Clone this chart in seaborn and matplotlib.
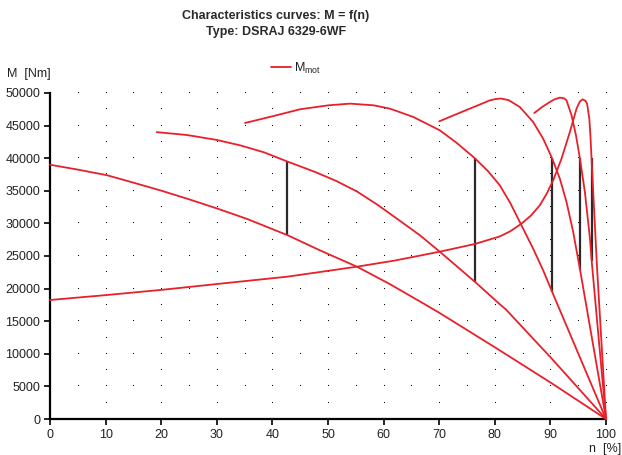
import numpy as np
import pandas as pd
import matplotlib
matplotlib.use("Agg")
import matplotlib.pyplot as plt
from matplotlib.lines import Line2D
import seaborn as sns

# ---- data ----
a_n = [0, 5, 10.2, 15, 20.1, 25, 30, 35.4, 42.7, 48.6, 55.2, 61, 67.4, 70, 80.2, 90.2, 100]
a_m = [39000, 38250, 37400, 36250, 35000, 33700, 32300, 30700, 28200, 25850, 23360, 20750,
       17600, 16300, 10900, 5500, 0]

b_n = [19.2, 24.6, 30, 34.2, 38.5, 42.6, 47.7, 51.5, 55.2, 59, 62.6, 66.5, 70.1, 76.4, 80.9,
       82, 90.2, 100]
b_m = [44000, 43560, 42800, 41970, 40900, 39520, 37880, 36500, 34900, 32800, 30600, 28200,
       25660, 21060, 17600, 16800, 9300, 0]

c_n = [35.07, 40.2, 44.96, 50.06, 53.96, 58.2, 61.15, 65.35, 70.1, 73.1, 76.4, 78.8, 80.9,
       82.8, 84.5, 86.9, 88.7, 90.3, 100]
c_m = [45400, 46470, 47500, 48110, 48370, 48110, 47600, 46320, 44280, 42380, 40000, 37990,
       35840, 33100, 30210, 26120, 22800, 19530, 0]

d_n = [70, 72.8, 75.5, 77.5, 79.1, 80.2, 81.1, 82.5, 84.5, 86.9, 88.7, 90.3, 91.7, 92.9,
       94.1, 95.3, 100]
d_m = [45650, 46650, 47600, 48300, 48870, 49080, 49150, 48900, 47850, 45550, 42990, 40000,
       36860, 33280, 28680, 23050, 0]

e_n = [87.1, 88.5, 89.9, 90.8, 91.7, 92.4, 92.9, 93.8, 94.6, 95.3, 96.2, 97.1, 97.45, 100]
e_m = [46930, 47850, 48620, 49050, 49290, 49200, 48870, 46580, 43510, 40000, 34820, 27800,
       24000, 0]

f_n = [0, 10, 20, 30, 42.7, 55.2, 62, 70.1, 76.4, 80.9, 82.8, 84.8, 86.5, 88.1, 89.3, 90.5,
       92.0, 93.5, 94.7, 95.3, 95.8, 96.3, 96.6, 97.0, 97.2, 97.4, 97.7, 98.0, 98.4, 100]
f_m = [18250, 19000, 19800, 20700, 21830, 23360, 24300, 25660, 26840, 28000, 28800, 29960,
       31200, 32780, 34500, 36610, 39930, 44020, 47600, 48700, 49030, 48800, 48370, 46060,
       43400, 39930, 34820, 29700, 23050, 0]

switch_n = [42.7, 76.4, 90.3, 95.3, 97.4]
switch_low = [28200, 21060, 19530, 22850, 24200]
switch_high = [39500, 40000, 40000, 40000, 40000]

x_ticks = list(range(0, 101, 10))
y_ticks = list(range(0, 50001, 5000))

title_1 = "Characteristics curves: M = f(n)"
title_2 = "Type: DSRAJ 6329-6WF"
legend_label = r"M$_{\mathrm{mot}}$"
y_label = "M  [Nm]"
x_label = "n  [%]"

curves = {"A": (a_n, a_m), "B": (b_n, b_m), "C": (c_n, c_m),
          "D": (d_n, d_m), "E": (e_n, e_m), "F": (f_n, f_m)}
df = pd.concat([pd.DataFrame({"n": n, "M": m, "curve": k}) for k, (n, m) in curves.items()],
               ignore_index=True)

# ---- style ----
sns.set_style("ticks")
plt.rcParams["font.family"] = ["Liberation Sans", "DejaVu Sans"]
plt.rcParams["mathtext.fontset"] = "custom"
plt.rcParams["mathtext.rm"] = "Liberation Sans"
plt.rcParams["mathtext.it"] = "Liberation Sans"

RED = "#e8202a"
TXT = "#222222"

fig = plt.figure(figsize=(6.22, 4.55), dpi=100)
ax = fig.add_axes([50 / 622, 36 / 455, 556 / 622, 326 / 455])

# dotted grid (single-pixel dots)
gx1, gy1 = np.meshgrid(np.arange(5, 101, 5), np.arange(5000, 50001, 5000))
gx2, gy2 = np.meshgrid(np.arange(10, 101, 10), np.arange(2500, 50000, 5000))
ax.plot(np.r_[gx1.ravel(), gx2.ravel()], np.r_[gy1.ravel(), gy2.ravel()],
        linestyle="none", marker=",", color="black", zorder=1, clip_on=False)

# switching lines
ax.vlines(switch_n, switch_low, switch_high, color="#2a2a2a", linewidth=1.6, zorder=2)

# curves
sns.lineplot(data=df, x="n", y="M", units="curve", estimator=None, sort=False,
             color=RED, linewidth=1.3, ax=ax, legend=False, zorder=3)
for ln in ax.get_lines():
    ln.set_clip_on(False)
    ln.set_solid_joinstyle("round")

ax.set_xlim(0, 100)
ax.set_ylim(0, 50000)
ax.set_xticks(x_ticks)
ax.set_yticks(y_ticks)
ax.set_xticklabels([str(v) for v in x_ticks], fontsize=9, color=TXT)
ax.set_yticklabels([str(v) for v in y_ticks], fontsize=9, color=TXT)
ax.set_xlabel("")
ax.set_ylabel("")
for s in ["top", "right"]:
    ax.spines[s].set_visible(False)
for s in ["left", "bottom"]:
    ax.spines[s].set_linewidth(1.6)
    ax.spines[s].set_color("black")
ax.tick_params(direction="out", length=4, width=1.2, pad=3, colors="black", labelcolor=TXT)

fig.text(276 / 622, 1 - 16 / 455, title_1, ha="center", va="center", fontsize=9,
         fontweight="bold", color="#2a2a2a")
fig.text(276 / 622, 1 - 32 / 455, title_2, ha="center", va="center", fontsize=9,
         fontweight="bold", color="#2a2a2a")
fig.text(7 / 622, 1 - 74 / 455, y_label, ha="left", va="center", fontsize=9, color=TXT)
fig.text(621 / 622, 1 - 449 / 455, x_label, ha="right", va="center", fontsize=9, color=TXT)

handle = Line2D([0], [0], color=RED, linewidth=1.3)
fig.legend([handle], [legend_label], loc="center", bbox_to_anchor=(296 / 622, 1 - 68 / 455),
           frameon=False, fontsize=9, handlelength=1.6, handletextpad=0.3,
           borderpad=0, labelcolor=TXT)

fig.savefig("out.png", dpi=100)
